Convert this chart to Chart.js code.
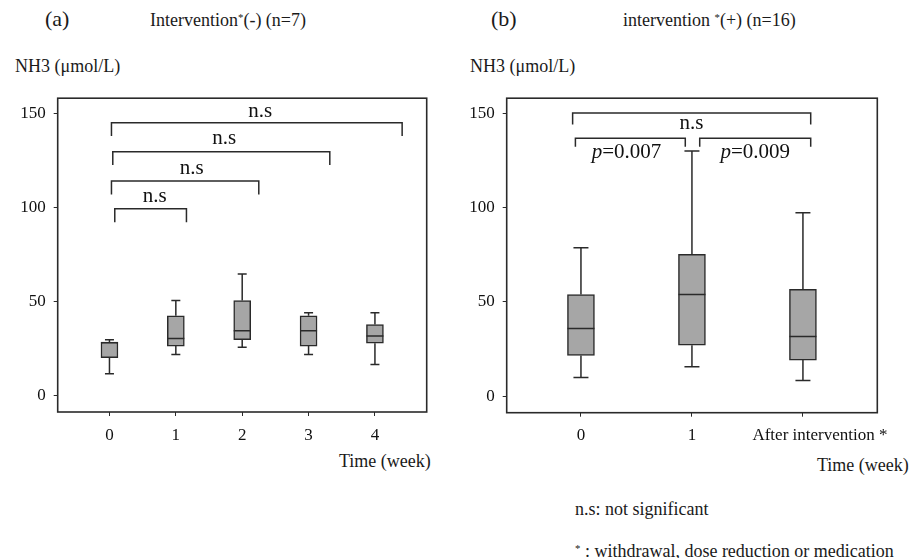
<!DOCTYPE html>
<html>
<head>
<meta charset="utf-8">
<script src="https://cdn.jsdelivr.net/npm/chart.js@4.4.1/dist/chart.umd.min.js"></script>
<style>
body { margin: 0; background: #fff; width: 909px; height: 558px; position: relative; overflow: hidden;
       font-family: 'Liberation Serif', 'Times New Roman', serif; color: #1a1a1a; }
.t { position: absolute; white-space: nowrap; line-height: 1; }
.t sup { font-size: 0.6em; vertical-align: 0.5em; }
canvas { position: absolute; }
</style>
</head>
<body>
<div class="t" style="left:45px;top:8px;font-size:22px">(a)</div>
<div class="t" style="left:150px;top:11px;font-size:18px">Intervention<sup>*</sup>(-) (n=7)</div>
<div class="t" style="left:491px;top:8px;font-size:22px">(b)</div>
<div class="t" style="left:623px;top:11px;font-size:18px">intervention <sup>*</sup>(+) (n=16)</div>
<div class="t" style="left:15px;top:57px;font-size:18px">NH3 (μmol/L)</div>
<div class="t" style="left:470px;top:57px;font-size:18px">NH3 (μmol/L)</div>
<div class="t" style="left:339px;top:452px;font-size:18px">Time (week)</div>
<div class="t" style="left:817px;top:456px;font-size:18px">Time (week)</div>
<div class="t" style="left:575px;top:500px;font-size:18px">n.s: not significant</div>
<div class="t" style="left:575px;top:542px;font-size:18px"><sup>*</sup> : withdrawal, dose reduction or medication</div>

<canvas id="chartA" width="450" height="400" style="left:0;top:80px"></canvas>
<canvas id="chartB" width="459" height="400" style="left:450px;top:80px"></canvas>

<script>
// panel (a): intervention (-)
const weeksA = [0, 1, 2, 3, 4];
const labelsA = ['0', '1', '2', '3', '4'];
const minA = [11.5, 21.7, 25.6, 21.7, 16.4];
const q1A = [20.1, 26.2, 29.6, 26.2, 27.7];
const medA = [28.0, 30.3, 34.4, 34.4, 31.6];
const q3A = [28.4, 42.3, 50.4, 42.3, 37.7];
const maxA = [29.6, 50.4, 64.5, 43.9, 43.9];

// panel (b): intervention (+)
const weeksB = [0, 1, 2];
const labelsB = ['0', '1', 'After intervention *'];
const minB = [9.8, 15.5, 8.3];
const q1B = [21.5, 27.0, 19.1];
const medB = [35.8, 53.8, 31.6];
const q3B = [53.8, 75.2, 56.6];
const maxB = [78.6, 129.9, 97.2];

const yTicks = [0, 50, 100, 150];

// comparison brackets: [from, to, level, foot, text, textX, textY]
const bracketsA = [
  [0.03, 4.41, 144.8, 137.8, 'n.s', 2.27, 150.7],
  [0.05, 3.32, 129.5, 122.4, 'n.s', 1.73, 136.7],
  [0.03, 2.25, 113.9, 106.8, 'n.s', 1.24, 120.4],
  [0.08, 1.16, 99.2, 92.0, 'n.s', 0.68, 105.8]
];
const bracketsB = [
  [-0.075, 2.07, 150.0, 144.0, 'n.s', 0.995, 144.5],
  [-0.05, 0.94, 136.7, 132.1, 'p=0.007', 0.41, 129.0],
  [1.07, 2.07, 136.7, 132.1, 'p=0.009', 1.57, 129.0]
];

const ink = '#2a2a2a';

const boxExtras = {
  id: 'boxExtras',
  afterDatasetsDraw(chart, args, opts) {
    const { ctx, chartArea, scales: { x, y } } = chart;
    ctx.save();
    ctx.strokeStyle = ink;
    ctx.lineWidth = 1.5;
    // whiskers, caps, medians
    opts.xs.forEach((v, i) => {
      const cx = x.getPixelForValue(v);
      const hw = opts.boxWidth / 2, cw = opts.capWidth / 2;
      const pMax = y.getPixelForValue(opts.max[i]);
      const pMin = y.getPixelForValue(opts.min[i]);
      const pQ1 = y.getPixelForValue(opts.q1[i]);
      const pQ3 = y.getPixelForValue(opts.q3[i]);
      const pMed = y.getPixelForValue(opts.med[i]);
      ctx.beginPath();
      ctx.moveTo(cx, pQ3); ctx.lineTo(cx, pMax);
      ctx.moveTo(cx - cw, pMax); ctx.lineTo(cx + cw, pMax);
      ctx.moveTo(cx, pQ1); ctx.lineTo(cx, pMin);
      ctx.moveTo(cx - cw, pMin); ctx.lineTo(cx + cw, pMin);
      ctx.moveTo(cx - hw, pMed); ctx.lineTo(cx + hw, pMed);
      ctx.stroke();
    });
    // brackets and their labels
    ctx.textAlign = 'left';
    ctx.textBaseline = 'middle';
    opts.brackets.forEach(b => {
      const x1 = x.getPixelForValue(b[0]), x2 = x.getPixelForValue(b[1]);
      const yl = y.getPixelForValue(b[2]), yf = y.getPixelForValue(b[3]);
      ctx.beginPath();
      ctx.moveTo(x1, yf); ctx.lineTo(x1, yl); ctx.lineTo(x2, yl); ctx.lineTo(x2, yf);
      ctx.stroke();
      const tx = x.getPixelForValue(b[5]), ty = y.getPixelForValue(b[6]);
      const txt = b[4];
      ctx.fillStyle = '#111';
      if (txt.startsWith('p')) {
        const it = 'italic 21px "Liberation Serif"', rg = '21px "Liberation Serif"';
        ctx.font = it; const w1 = ctx.measureText('p').width;
        ctx.font = rg; const w2 = ctx.measureText(txt.slice(1)).width;
        const sx = tx - (w1 + w2) / 2;
        ctx.font = it; ctx.fillText('p', sx, ty);
        ctx.font = rg; ctx.fillText(txt.slice(1), sx + w1, ty);
      } else {
        ctx.font = '21px "Liberation Serif"';
        ctx.fillText(txt, tx - ctx.measureText(txt).width / 2, ty);
      }
    });
    // frame
    ctx.lineWidth = 1.6;
    ctx.strokeRect(chartArea.left, chartArea.top, chartArea.right - chartArea.left, chartArea.bottom - chartArea.top);
    ctx.restore();
  }
};

function makePanel(id, xs, labels, min, q1, med, q3, max, brackets, o) {
  return new Chart(document.getElementById(id), {
    type: 'bar',
    data: {
      datasets: [{
        data: xs.map((v, i) => ({ x: v, y: [q1[i], q3[i]] })),
        backgroundColor: '#a6a6a6',
        borderColor: ink,
        borderWidth: 1.5,
        borderSkipped: false,
        barThickness: o.boxWidth
      }]
    },
    options: {
      responsive: false,
      animation: false,
      layout: { padding: o.padding },
      scales: {
        x: {
          type: 'linear',
          offset: false,
          min: o.xMin, max: o.xMax,
          afterBuildTicks: s => { s.ticks = xs.map(v => ({ value: v })); },
          afterFit: s => { s.height = 40; },
          border: { display: false },
          grid: { offset: false, drawOnChartArea: false, drawTicks: true, tickLength: 4, color: ink },
          ticks: {
            padding: 9, color: '#111', maxRotation: 0, autoSkip: false,
            font: { family: 'Liberation Serif', size: 17 },
            // the long last label sits right of its tick in the original
            callback: v => {
              const s = labels[xs.indexOf(v)];
              return s.length > 3 ? '\u2002\u2002\u2002\u2002' + s : s;
            }
          }
        },
        y: {
          min: -8.8, max: 157.9,
          afterBuildTicks: s => { s.ticks = yTicks.map(v => ({ value: v })); },
          afterFit: s => { s.width = o.yWidth; },
          border: { display: false },
          grid: { drawOnChartArea: false, drawTicks: true, tickLength: 4, color: ink },
          ticks: { padding: 8, color: '#111', font: { family: 'Liberation Serif', size: 17 } }
        }
      },
      plugins: {
        legend: { display: false },
        tooltip: { enabled: false },
        boxExtras: { xs, min, q1, med, q3, max, brackets, boxWidth: o.boxWidth, capWidth: o.capWidth }
      }
    },
    plugins: [boxExtras]
  });
}

makePanel('chartA', weeksA, labelsA, minA, q1A, medA, q3A, maxA, bracketsA, {
  xMin: -0.78, xMax: 4.78, boxWidth: 17, capWidth: 9, yWidth: 57.7,
  padding: { top: 9, right: 23.3, bottom: 28, left: 0 }
});
makePanel('chartB', weeksB, labelsB, minB, q1B, medB, q3B, maxB, bracketsB, {
  xMin: -0.669, xMax: 2.67, boxWidth: 27, capWidth: 15, yWidth: 56.7,
  padding: { top: 9, right: 31.7, bottom: 27.3, left: 0 }
});
</script>
</body>
</html>
